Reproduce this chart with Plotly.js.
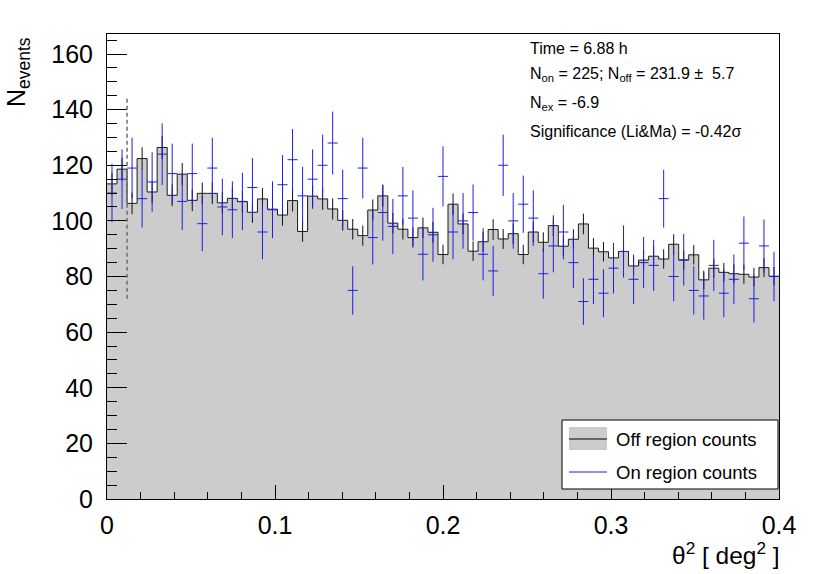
<!DOCTYPE html>
<html>
<head>
<meta charset="utf-8">
<script src="https://cdn.plot.ly/plotly-3.0.1.min.js"></script>
<style>html,body{margin:0;padding:0;background:#fff;}#chart{width:830px;height:574px;}</style>
</head>
<body>
<div id="chart"></div>
<script>
// ---- histogram binning ----
const thetaMin = 0.0;
const thetaMax = 0.4;
const nBins = 67;

// ---- off region counts (scaled), per bin ----
const offCounts = [113.3,118.6,106.3,122.4,110.4,126.4,109.2,116.8,107.4,109.9,
  109.9,106.5,108.1,106.9,103.1,107.9,104.2,102.1,107.3,96.2,
  108.9,107.9,104.3,100.2,97.0,94.7,103.9,109.0,99.2,97.0,
  94.0,97.5,95.9,87.9,106.0,98.9,89.1,92.5,96.9,93.5,
  95.4,87.9,96.0,92.3,98.3,90.9,93.4,98.9,90.2,88.9,
  86.7,89.0,83.8,85.9,87.3,86.3,91.6,85.9,87.8,78.8,
  83.0,81.5,81.0,80.8,79.8,83.2,80.1];
const offErrors = [4.0,4.1,3.9,4.1,3.9,4.2,3.9,4.0,3.9,3.9,
  3.9,3.9,3.9,3.9,3.8,3.9,3.8,3.8,3.9,3.7,
  3.9,3.9,3.8,3.7,3.7,3.6,3.8,3.9,3.7,3.7,
  3.6,3.7,3.7,3.5,3.9,3.7,3.5,3.6,3.7,3.6,
  3.7,3.5,3.7,3.6,3.7,3.6,3.6,3.7,3.6,3.5,
  3.5,3.5,3.4,3.5,3.5,3.5,3.6,3.5,3.5,3.3,
  3.4,3.4,3.4,3.4,3.3,3.4,3.3];

// ---- on region counts, per bin ----
const onCounts = [110,115,119,108,114,124,117,107,117,99,
  119,105,104,107,112,96,104,113,122,109,
  115,120,128,108,75,119,94,103,98,109,
  101,88,95,116,96,100,103,88,82,120,
  100,106,101,81,91,96,85,71,79,74,
  83,89,79,85,84,108,80,86,75,73,
  84,74,79,92,72,91,80];
const onErrors = [10.5,10.7,10.9,10.4,10.7,11.1,10.8,10.3,10.8,9.9,
  10.9,10.2,10.2,10.3,10.6,9.8,10.2,10.6,11.0,10.4,
  10.7,11.0,11.3,10.4,8.7,10.9,9.7,10.1,9.9,10.4,
  10.0,9.4,9.7,10.8,9.8,10.0,10.1,9.4,9.1,11.0,
  10.0,10.3,10.0,9.0,9.5,9.8,9.2,8.4,8.9,8.6,
  9.1,9.4,8.9,9.2,9.2,10.4,8.9,9.3,8.7,8.5,
  9.2,8.6,8.9,9.6,8.5,9.5,8.9];

// ---- signal cut marker ----
const cutBins = 2;
const cutLineLow = 72;
const cutLineHigh = 145;

// ---- text ----
const statLines = [
  "Time = 6.88 h",
  "N<sub>on</sub> = 225; N<sub>off</sub> = 231.9 \u00b1  5.7",
  "N<sub>ex</sub> = -6.9",
  "Significance (Li&amp;Ma) = -0.42\u03c3"
];
const legendLabels = ["Off region counts", "On region counts"];
const xTitle = "\u03b8<sup>2</sup> [ deg<sup>2</sup> ]";
const yTitle = "N<sub>events</sub>";

// ---- derived bin geometry ----
const binWidth = (thetaMax - thetaMin) / nBins;
const edges = [], centers = [];
for (let i = 0; i <= nBins; i++) edges.push(thetaMin + i * binWidth);
for (let i = 0; i < nBins; i++) centers.push(thetaMin + (i + 0.5) * binWidth);
const stepY = offCounts.concat([offCounts[offCounts.length - 1]]);

const FONT = "Liberation Sans, Arial, Helvetica, sans-serif";
const BLUE = "rgb(30,30,225)";

// plot area in pixels
const L = 107, R = 779, T = 34, B = 499;
const px = v => (v - L) / (R - L);
const py = v => (B - v) / (B - T);

const traces = [
  { // off histogram (filled step)
    type: "scatter", mode: "lines", x: edges, y: stepY,
    line: { shape: "hv", color: "#1a1a1a", width: 1 },
    fill: "tozeroy", fillcolor: "#cccccc", hoverinfo: "skip", showlegend: false
  },
  { // off error bars
    type: "scatter", mode: "markers", x: centers, y: offCounts,
    marker: { size: 1, color: "rgba(0,0,0,0)" },
    error_y: { type: "data", array: offErrors, visible: true, color: "#111", thickness: 1, width: 0 },
    showlegend: false
  },
  { // on counts with errors
    type: "scatter", mode: "markers", x: centers, y: onCounts,
    marker: { size: 1, color: "rgba(0,0,0,0)" },
    error_y: { type: "data", array: onErrors, visible: true, color: BLUE, thickness: 1, width: 0 },
    error_x: { type: "constant", value: binWidth / 2, visible: true, color: BLUE, thickness: 1, width: 0 },
    showlegend: false
  }
];

const shapes = [
  { type: "line", xref: "x", yref: "y", x0: cutBins * binWidth, x1: cutBins * binWidth,
    y0: cutLineLow, y1: cutLineHigh, line: { color: "#6e6e6e", width: 1.5, dash: "4px,3px" } },
  // legend box
  { type: "rect", xref: "paper", yref: "paper", x0: px(562), x1: px(778), y0: py(489), y1: py(420),
    fillcolor: "#ffffff", line: { color: "#000", width: 1 } },
  { type: "rect", xref: "paper", yref: "paper", x0: px(569), x1: px(607), y0: py(450), y1: py(427),
    fillcolor: "#cccccc", line: { width: 0 } },
  { type: "line", xref: "paper", yref: "paper", x0: px(569), x1: px(607), y0: py(439), y1: py(439),
    line: { color: "#000", width: 1 } },
  { type: "line", xref: "paper", yref: "paper", x0: px(569), x1: px(607), y0: py(472), y1: py(472),
    line: { color: BLUE, width: 1 } }
];

const statY = [48, 75, 104, 131];
const annotations = statLines.map((t, i) => ({
  text: t, xref: "paper", yref: "paper", x: px(528), y: py(statY[i]),
  xanchor: "left", yanchor: "middle", showarrow: false,
  font: { family: FONT, size: 16, color: "#000" }
}));
annotations.push(
  { text: legendLabels[0], xref: "paper", yref: "paper", x: px(614), y: py(440), xanchor: "left", yanchor: "middle",
    showarrow: false, font: { family: FONT, size: 18.5, color: "#000" } },
  { text: legendLabels[1], xref: "paper", yref: "paper", x: px(614), y: py(472), xanchor: "left", yanchor: "middle",
    showarrow: false, font: { family: FONT, size: 18.5, color: "#000" } },
  { text: xTitle, xref: "paper", yref: "paper", x: px(782), y: py(553), xanchor: "right", yanchor: "middle",
    showarrow: false, font: { family: FONT, size: 24.5, color: "#000" } },
  { text: yTitle, xref: "paper", yref: "paper", x: px(18), y: py(72), xanchor: "center", yanchor: "middle",
    textangle: -90, showarrow: false, font: { family: FONT, size: 25, color: "#000" } }
);

const axisCommon = {
  showline: true, linecolor: "#000", linewidth: 1, mirror: true,
  showgrid: false, zeroline: false, ticks: "inside", tickcolor: "#000", tickwidth: 1,
  tickfont: { family: FONT, size: 25, color: "#000" }, layer: "above traces"
};

const layout = {
  width: 830, height: 574,
  margin: { l: L, r: 830 - R, t: T, b: 574 - B },
  paper_bgcolor: "#fff", plot_bgcolor: "#fff",
  showlegend: false,
  xaxis: Object.assign({}, axisCommon, {
    range: [thetaMin, thetaMax], tick0: 0, dtick: 0.1, ticklen: 14, ticklabelstandoff: 4,
    minor: { dtick: 0.02, ticklen: 7, ticks: "inside", tickcolor: "#000", tickwidth: 1, showgrid: false }
  }),
  yaxis: Object.assign({}, axisCommon, {
    range: [0, 167.2], tick0: 0, dtick: 20, ticklen: 20, ticklabelstandoff: 8,
    minor: { dtick: 5, ticklen: 10, ticks: "inside", tickcolor: "#000", tickwidth: 1, showgrid: false }
  }),
  shapes: shapes,
  annotations: annotations
};

Plotly.newPlot("chart", traces, layout, { staticPlot: true, displayModeBar: false });
</script>
</body>
</html>
